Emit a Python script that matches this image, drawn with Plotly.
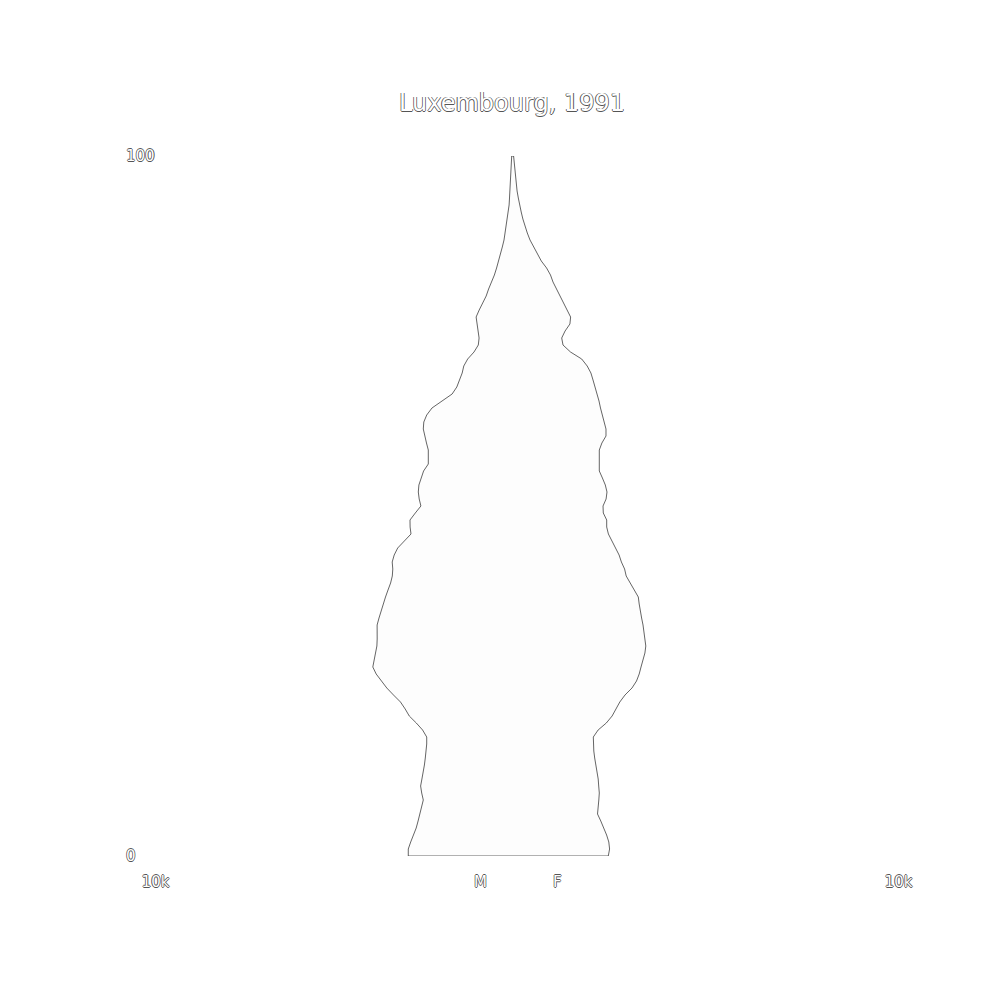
import plotly.graph_objects as go

# Population by single year of age, Luxembourg 1991
ages = list(range(0, 101))
male = [2792, 2792, 2727, 2646, 2579, 2528, 2482, 2434, 2388, 2431,
        2460, 2425, 2385, 2358, 2334, 2312, 2296, 2296, 2407, 2576,
        2765, 2875, 3002, 3190, 3370, 3513, 3656, 3747, 3715, 3664,
        3637, 3629, 3634, 3631, 3580, 3527, 3470, 3405, 3338, 3268,
        3222, 3209, 3225, 3171, 3077, 2907, 2719, 2743, 2746, 2603,
        2452, 2498, 2522, 2506, 2442, 2380, 2253, 2253, 2253, 2302,
        2355, 2388, 2374, 2296, 2154, 1879, 1612, 1486, 1408, 1341,
        1298, 1193, 1023, 907, 886, 910, 945, 966, 883, 789,
        695, 630, 549, 474, 415, 358, 307, 261, 215, 186,
        153, 127, 100, 78, 67, 54, 43, 32, 24, 16, 8]
female = [2592, 2627, 2606, 2547, 2479, 2390, 2302, 2323, 2337, 2350,
          2334, 2320, 2291, 2259, 2226, 2202, 2189, 2189, 2318, 2539,
          2695, 2802, 2902, 3042, 3230, 3352, 3424, 3473, 3535, 3578,
          3602, 3586, 3548, 3527, 3489, 3448, 3424, 3400, 3311, 3182,
          3074, 3031, 2945, 2883, 2789, 2697, 2595, 2549, 2549, 2458,
          2450, 2533, 2557, 2512, 2434, 2350, 2350, 2350, 2350, 2420,
          2530, 2530, 2498, 2431, 2382, 2342, 2294, 2237, 2181, 2124,
          2024, 1876, 1575, 1373, 1338, 1429, 1559, 1578, 1481, 1378,
          1289, 1201, 1104, 1036, 931, 789, 673, 579, 485, 412,
          347, 293, 248, 202, 170, 137, 116, 94, 75, 59, 43]

title_text = "Luxembourg, 1991"
x_tick_vals = [-10000, 10000]
x_tick_text = ["10k", "10k"]
y_tick_vals = [0, 100]
y_tick_text = ["0", "100"]
side_labels = ["M", "F"]

# closed outline: male side (negative) going up, female side coming down
xs = [-m for m in male] + female[::-1] + [-male[0]]
ys = ages + ages[::-1] + [ages[0]]

outline = "0.8px 0 0 #555, -0.8px 0 0 #555, 0 0.8px 0 #555, 0 -0.8px 0 #555"
txt_font = dict(family="DejaVu Sans", size=15, color="white", shadow=outline)

fig = go.Figure()
fig.add_trace(go.Scatter(
    x=xs, y=ys, mode="lines", fill="toself",
    fillcolor="#fdfdfd",
    line=dict(color="#222222", width=0.7),
    hoverinfo="skip", showlegend=False,
))

fig.update_layout(
    width=1000, height=1000, autosize=False,
    margin=dict(l=120, r=96, t=156, b=144),
    paper_bgcolor="white", plot_bgcolor="white",
    title=dict(text=title_text, x=0.5, xref="paper", xanchor="center",
               y=0.897, yref="container", yanchor="middle",
               font=dict(family="DejaVu Sans", size=24, color="white",
                         shadow=outline)),
    font=txt_font,
    xaxis=dict(range=[-10552, 10552], tickvals=x_tick_vals, ticktext=x_tick_text,
               showgrid=False, zeroline=False, showline=False, ticks="",
               tickfont=txt_font,
               ticklabelshift=15, ticklabelstandoff=15, fixedrange=True),
    yaxis=dict(range=[0, 100], tickvals=y_tick_vals, ticktext=y_tick_text,
               showgrid=False, zeroline=False, showline=False, ticks="",
               tickfont=txt_font,
               ticklabelposition="inside", ticklabeloverflow="allow",
               ticklabelstandoff=3, fixedrange=True),
    annotations=[
        dict(text=side_labels[0], x=-850, xref="x", y=-0.037, yref="paper",
             yanchor="middle", xanchor="center", showarrow=False, font=txt_font),
        dict(text=side_labels[1], x=1230, xref="x", y=-0.037, yref="paper",
             yanchor="middle", xanchor="center", showarrow=False, font=txt_font),
    ],
)

fig.write_html("out.html")
